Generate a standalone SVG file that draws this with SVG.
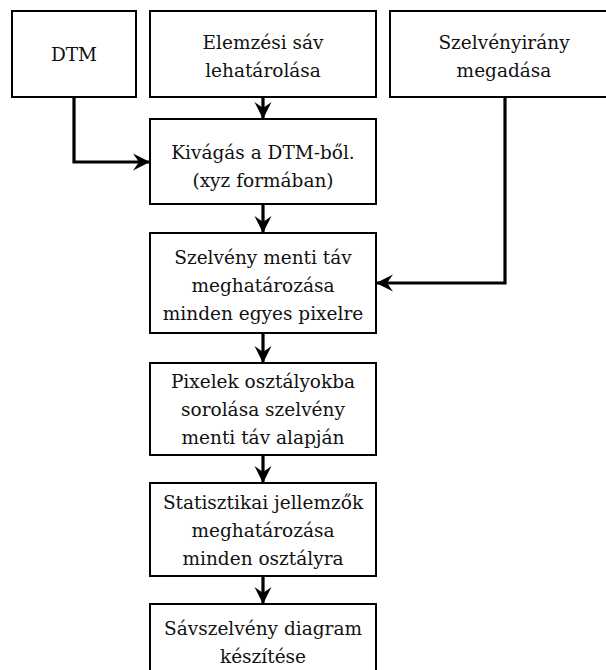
<svg xmlns="http://www.w3.org/2000/svg" width="606" height="670" viewBox="0 0 606 670">
<style>
.box{fill:#fff;stroke:#000;stroke-width:2}
.t{font-family:'DejaVu Serif',serif;font-size:18.5px;fill:#111;text-anchor:middle}
.c{fill:none;stroke:#000;stroke-width:3.2;marker-end:url(#ah)}
</style>
<defs>
<marker id="ah" markerUnits="userSpaceOnUse" markerWidth="20" markerHeight="20" viewBox="-18 -10 20 20" refX="0" refY="0" orient="auto">
<path d="M0,0 L-17,-8.5 L-11,0 L-17,8.5 Z" fill="#000"/>
</marker>
</defs>
<rect width="606" height="670" fill="#fff"/>
<g id="connectors">
<path class="c" d="M74,97 V162 H150"/>
<path class="c" d="M263,97 V119"/>
<path class="c" d="M505,97 V283 H376"/>
<path class="c" d="M263,204 V233"/>
<path class="c" d="M263,333 V363"/>
<path class="c" d="M263,455 V483"/>
<path class="c" d="M263,576 V604"/>
</g>
<g id="dtm">
<rect class="box" x="12" y="11" width="124" height="86"/>
<text class="t" x="74" y="61">DTM</text>
</g>
<g id="elemzesi">
<rect class="box" x="150" y="11" width="226" height="86"/>
<text class="t" x="263" y="49">Elemzési sáv</text>
<text class="t" x="263" y="77">lehatárolása</text>
</g>
<g id="szelvenyirany">
<rect class="box" x="390" y="11" width="228" height="86"/>
<text class="t" x="504" y="49">Szelvényirány</text>
<text class="t" x="504" y="77">megadása</text>
</g>
<g id="kivagas">
<rect class="box" x="150" y="119" width="226" height="85"/>
<text class="t" x="263" y="159">Kivágás a DTM-ből.</text>
<text class="t" x="263" y="187">(xyz formában)</text>
</g>
<g id="szelveny-menti">
<rect class="box" x="150" y="233" width="226" height="100"/>
<text class="t" x="263" y="264">Szelvény menti táv</text>
<text class="t" x="263" y="292">meghatározása</text>
<text class="t" x="263" y="320">minden egyes pixelre</text>
</g>
<g id="pixelek">
<rect class="box" x="150" y="363" width="226" height="92"/>
<text class="t" x="263" y="388">Pixelek osztályokba</text>
<text class="t" x="263" y="416">sorolása szelvény</text>
<text class="t" x="263" y="444">menti táv alapján</text>
</g>
<g id="statisztikai">
<rect class="box" x="150" y="483" width="226" height="93"/>
<text class="t" x="263" y="509">Statisztikai jellemzők</text>
<text class="t" x="263" y="537">meghatározása</text>
<text class="t" x="263" y="565">minden osztályra</text>
</g>
<g id="savszelveny">
<rect class="box" x="150" y="604" width="226" height="80"/>
<text class="t" x="263" y="635">Sávszelvény diagram</text>
<text class="t" x="263" y="663">készítése</text>
</g>
</svg>
